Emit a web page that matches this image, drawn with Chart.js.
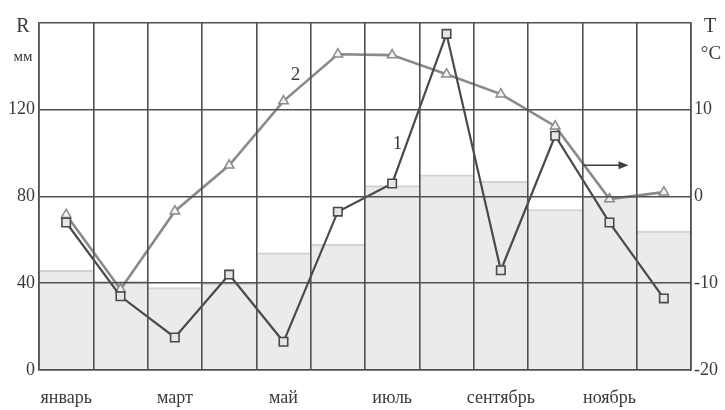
<!DOCTYPE html>
<html>
<head>
<meta charset="utf-8">
<script src="https://cdn.jsdelivr.net/npm/chart.js@4.4.1/dist/chart.umd.min.js"></script>
<style>
  html, body { margin: 0; padding: 0; background: #fff; }
  #wrap { width: 725px; height: 410px; position: relative; }
</style>
</head>
<body>
<div id="wrap"><canvas id="climate"></canvas></div>
<script>
// Месяцы (подписываются через один)
const months = ['январь', 'февраль', 'март', 'апрель', 'май', 'июнь',
                'июль', 'август', 'сентябрь', 'октябрь', 'ноябрь', 'декабрь'];

// Осадки, мм (столбики)
const rainNorm = [46, 41, 38, 40, 54, 58, 85, 90, 87, 74, 80, 64];
// Кривая 1 - осадки, мм
const rainYear = [68, 34, 15, 44, 13, 73, 86, 155, 46, 108, 68, 33];
// Кривая 2 - температура, °C
const tempYear = [-2.1, -10.7, -1.7, 3.6, 11, 16.4, 16.3, 14.1, 11.8, 8.1, -0.3, 0.5];

// Деления шкал
const rTicks = [0, 40, 80, 120];
const tTicks = [-20, -10, 0, 10];

const gridColor = '#505050';
const textColor = '#3a3a3a';
const serif = '"Liberation Serif", "DejaVu Serif", serif';

// Подписи осей, номера кривых и стрелка
const extras = {
    id: 'extras',
    afterDraw(chart) {
        const ctx = chart.ctx;
        const x = chart.scales.x, y = chart.scales.y, y1 = chart.scales.y1;
        ctx.save();
        ctx.fillStyle = textColor;
        ctx.textAlign = 'center';
        ctx.textBaseline = 'middle';
        ctx.font = '20px ' + serif;
        ctx.fillText('R', 23, 27);
        ctx.fillText('T', 710, 27);
        ctx.font = '15px ' + serif;
        ctx.fillText('мм', 23, 57);
        ctx.font = '19px ' + serif;
        ctx.fillText('°C', 711, 54);

        ctx.font = '19px ' + serif;
        ctx.fillText('1', x.getPixelForValue(6.1), y.getPixelForValue(104));
        ctx.fillText('2', x.getPixelForValue(4.22), y1.getPixelForValue(14));

        // стрелка
        const ax0 = x.getPixelForValue(9.52), ax1 = x.getPixelForValue(10.35);
        const ay = y1.getPixelForValue(3.6);
        ctx.strokeStyle = '#404040';
        ctx.lineWidth = 1.6;
        ctx.beginPath();
        ctx.moveTo(ax0, ay);
        ctx.lineTo(ax1 - 8, ay);
        ctx.stroke();
        ctx.fillStyle = '#404040';
        ctx.beginPath();
        ctx.moveTo(ax1, ay);
        ctx.lineTo(ax1 - 10, ay - 4);
        ctx.lineTo(ax1 - 10, ay + 4);
        ctx.closePath();
        ctx.fill();
        ctx.restore();
    }
};

new Chart(document.getElementById('climate'), {
    data: {
        labels: months,
        datasets: [
            {
                type: 'line',
                label: '1',
                data: rainYear,
                yAxisID: 'y',
                order: 1,
                borderColor: '#4a4a4a',
                borderWidth: 2.2,
                pointStyle: 'rect',
                pointRadius: 6,
                pointBorderWidth: 1.6,
                pointBorderColor: '#4a4a4a',
                pointBackgroundColor: '#e6e6e6',
                tension: 0
            },
            {
                type: 'line',
                label: '2',
                data: tempYear,
                yAxisID: 'y1',
                order: 2,
                borderColor: '#8a8a8a',
                borderWidth: 2.6,
                pointStyle: 'triangle',
                pointRadius: 5.5,
                pointBorderWidth: 1.5,
                pointBorderColor: '#8a8a8a',
                pointBackgroundColor: '#f2f2f2',
                tension: 0
            },
            {
                type: 'bar',
                label: 'R',
                data: rainNorm,
                yAxisID: 'y',
                order: 3,
                backgroundColor: '#ebebeb',
                borderColor: '#d2d2d2',
                borderWidth: { top: 2, left: 0, right: 0, bottom: 0 },
                borderSkipped: false,
                barPercentage: 1,
                categoryPercentage: 1
            }
        ]
    },
    options: {
        responsive: true,
        maintainAspectRatio: false,
        animation: false,
        layout: { padding: { top: 23, left: 0, right: 0, bottom: 0 } },
        plugins: {
            legend: { display: false },
            tooltip: { enabled: false }
        },
        scales: {
            x: {
                z: 1,
                offset: true,
                // сетка поверх столбиков
                grid: { z: 1, offset: true, color: gridColor, lineWidth: 1.6, drawTicks: false },
                border: { z: 1, color: gridColor, width: 1.6 },
                ticks: {
                    autoSkip: false,
                    maxRotation: 0,
                    padding: 17,
                    color: textColor,
                    font: { family: serif, size: 18 },
                    callback: (v, i) => (i % 2 === 0 ? months[i] : '')
                },
                afterFit: s => { s.height = 40; }
            },
            y: {
                position: 'left',
                z: 1,
                min: 0,
                max: 160,
                grid: { z: 1, color: gridColor, lineWidth: 1.6, drawTicks: false },
                border: { z: 1, color: gridColor, width: 1.6 },
                afterBuildTicks: s => { s.ticks = rTicks.concat([160]).map(v => ({ value: v })); },
                ticks: {
                    padding: 4,
                    color: textColor,
                    font: { family: serif, size: 18 },
                    callback: v => (rTicks.includes(v) ? v : '')
                },
                afterFit: s => { s.width = 39; }
            },
            y1: {
                position: 'right',
                z: 1,
                min: -20,
                max: 20,
                grid: { drawOnChartArea: false, drawTicks: false },
                border: { z: 1, color: gridColor, width: 1.6 },
                afterBuildTicks: s => { s.ticks = tTicks.concat([20]).map(v => ({ value: v })); },
                ticks: {
                    padding: 3,
                    color: textColor,
                    font: { family: serif, size: 18 },
                    callback: v => (tTicks.includes(v) ? v : '')
                },
                afterFit: s => { s.width = 34; }
            }
        }
    },
    plugins: [extras]
});
</script>
</body>
</html>
